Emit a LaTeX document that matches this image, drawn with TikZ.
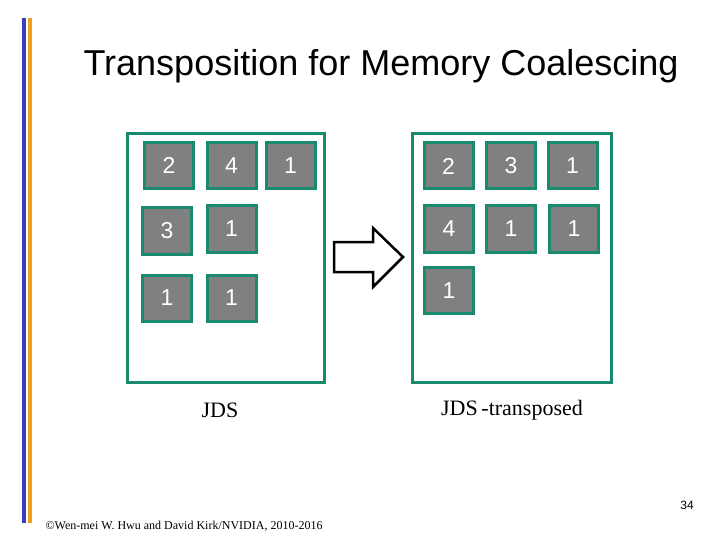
\documentclass[tikz,border=0pt]{standalone}
\usepackage{fontspec}
\setmainfont{Liberation Serif}
\newfontfamily\arial{Liberation Sans}
\usetikzlibrary{positioning}
\definecolor{teal}{RGB}{26,138,110}
\definecolor{cellgray}{RGB}{128,128,128}
\definecolor{barblue}{RGB}{60,60,190}
\definecolor{barorange}{RGB}{240,160,30}
\tikzset{
  cell/.style={draw=teal, line width=3pt, fill=cellgray, text=white,
    minimum width=49pt, minimum height=46pt, inner sep=0pt,
    font=\arial\fontsize{23}{23}\selectfont},
  frame/.style={draw=teal, line width=3pt},
  caption/.style={font=\fontsize{22}{22}\selectfont}
}
\begin{document}
\begin{tikzpicture}[x=1pt,y=-1pt]
  \useasboundingbox (0,0) rectangle (720,540);
  % side bars
  \fill[barblue] (22,18) rectangle (26,523);
  \fill[barorange] (28,18) rectangle (32,523);

  \node[font=\arial\fontsize{36}{36}\selectfont] (title) at (381,66) {Transposition for Memory Coalescing};

  % JDS
  \draw[frame] (127,134) rectangle (324,382);
  \node[cell] (a11) at (169,165.5) {2};
  \node[cell] (a12) at (231.5,165.5) {4};
  \node[cell] (a13) at (290.5,165.5) {1};
  \node[cell] (a21) at (167,231) {3};
  \node[cell] (a22) at (231.5,229) {1};
  \node[cell] (a31) at (167,298) {1};
  \node[cell] (a32) at (231.5,298) {1};
  \node[caption] (jds) at (220,410) {JDS};

  % JDS transposed
  \draw[frame] (412,134) rectangle (611,382);
  \node[cell] (b11) at (448.5,166) {2};
  \node[cell] (b12) at (511,166) {3};
  \node[cell] (b13) at (572.5,166) {1};
  \node[cell] (b21) at (449,229) {4};
  \node[cell] (b22) at (511,229) {1};
  \node[cell] (b23) at (574,229) {1};
  \node[cell] (b31) at (449,290.5) {1};
  \node[caption] (jdst) at (512,410) {JDS\,-transposed};

  % big arrow
  \draw[line width=2.5pt, line join=miter] (334,242) -- (373,242) -- (373,228) -- (403,257)
    -- (373,287) -- (373,272) -- (334,272) -- cycle;

  \node[font=\arial\fontsize{12}{12}\selectfont] (page) at (687,505) {34};
  \node[anchor=west, font=\fontsize{12}{12}\selectfont] (copy) at (42,526)
    {©Wen-mei W. Hwu and David Kirk/NVIDIA, 2010-2016};
\end{tikzpicture}
\end{document}
